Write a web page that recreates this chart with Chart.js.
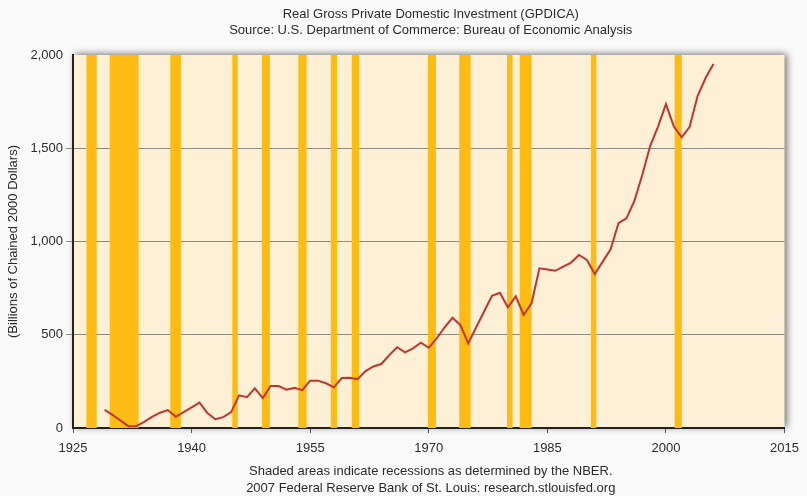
<!DOCTYPE html>
<html>
<head>
<meta charset="utf-8">
<script src="https://cdn.jsdelivr.net/npm/chart.js@4/dist/chart.umd.min.js"></script>
<style>
  html, body { margin: 0; padding: 0; background: #fafafa; }
  #wrap { width: 807px; height: 496px; position: relative; }
</style>
</head>
<body>
<div id="wrap"><canvas id="c" width="807" height="496"></canvas></div>
<script>
// ---- data ----
const years = [1929,1930,1931,1932,1933,1934,1935,1936,1937,1938,1939,1940,1941,1942,1943,1944,1945,1946,1947,1948,1949,
  1950,1951,1952,1953,1954,1955,1956,1957,1958,1959,1960,1961,1962,1963,1964,1965,1966,1967,1968,1969,
  1970,1971,1972,1973,1974,1975,1976,1977,1978,1979,1980,1981,1982,1983,1984,1985,1986,1987,1988,1989,
  1990,1991,1992,1993,1994,1995,1996,1997,1998,1999,2000,2001,2002,2003,2004,2005,2006];
const investment = [97,70,40,10,10,33,60,82,96,60,85,110,136,80,47,58,85,175,165,213,160,
  225,225,205,215,203,254,254,240,218,268,270,262,305,330,343,391,433,406,427,457,
  430,480,540,591,552,454,540,625,709,725,647,706,606,669,856,850,843,865,887,928,
  901,826,892,958,1098,1124,1217,1357,1512,1616,1737,1616,1559,1615,1780,1875,1952];
const recessionStarts = [1926.7,1929.65,1937.3,1945.15,1948.9,1953.5,1957.6,1960.25,1969.9,1973.85,1979.9,1981.5,1990.5,2001.1];
const recessionEnds   = [1928.0,1933.3,1938.65,1945.85,1949.9,1954.55,1958.4,1961.2,1970.9,1975.3,1980.6,1983.0,1991.2,2002.0];
const xTickValues = [1925,1940,1955,1970,1985,2000,2015];
const yTickValues = [0,500,1000,1500,2000];
const titleLines = ["Real Gross Private Domestic Investment (GPDICA)", "Source: U.S. Department of Commerce: Bureau of Economic Analysis"];
const footerLines = ["Shaded areas indicate recessions as determined by the NBER.", "2007 Federal Reserve Bank of St. Louis: research.stlouisfed.org"];
const yAxisTitle = "(Billions of Chained 2000 Dollars)";

const FONT = "'Liberation Sans', Arial, sans-serif";

const plotBg = {
  id: 'plotBg',
  beforeDraw(chart) {
    const {ctx, chartArea: a} = chart;
    ctx.save();
    ctx.shadowColor = 'rgba(0,0,0,0.55)';
    ctx.shadowBlur = 7;
    ctx.shadowOffsetX = 2;
    ctx.shadowOffsetY = -1;
    ctx.fillStyle = '#fdf0d6';
    ctx.fillRect(a.left, a.top, a.right - a.left, a.bottom - a.top);
    ctx.restore();
  }
};

const recessions = {
  id: 'recessions',
  beforeDatasetsDraw(chart) {
    const {ctx, chartArea: a, scales: {x}} = chart;
    ctx.save();
    ctx.fillStyle = '#fdbb14';
    for (let i = 0; i < recessionStarts.length; i++) {
      const x0 = x.getPixelForValue(recessionStarts[i]);
      const x1 = x.getPixelForValue(recessionEnds[i]);
      ctx.fillRect(x0, a.top, x1 - x0, a.bottom - a.top);
    }
    ctx.restore();
  }
};

const texts = {
  id: 'texts',
  afterDraw(chart) {
    const {ctx, chartArea: a} = chart;
    const cx = (a.left + a.right) / 2 + 2;
    ctx.save();
    ctx.fillStyle = '#2b2b2b';
    ctx.textAlign = 'center';
    ctx.textBaseline = 'middle';
    ctx.font = "13px " + FONT;
    ctx.fillText(titleLines[0], cx, 14);
    ctx.fillText(titleLines[1], cx, 30);
    ctx.fillText(footerLines[0], cx, 471);
    ctx.fillText(footerLines[1], cx, 488);
    ctx.restore();
  }
};

new Chart(document.getElementById('c'), {
  type: 'line',
  data: {
    datasets: [{
      data: years.map((y, i) => ({x: y, y: investment[i]})),
      borderColor: '#c4342b',
      borderWidth: 2,
      pointRadius: 0,
      tension: 0,
      fill: false
    }]
  },
  options: {
    responsive: false,
    animation: false,
    events: [],
    layout: { padding: { top: 55, right: 18, left: 0, bottom: 0 } },
    plugins: { legend: { display: false }, tooltip: { enabled: false }, title: { display: false } },
    scales: {
      x: {
        type: 'linear',
        min: 1925, max: 2015,
        afterBuildTicks(scale) { scale.ticks = xTickValues.map(v => ({value: v})); },
        afterFit(scale) { scale.height = 68; },
        grid: { drawOnChartArea: false, drawTicks: true, tickLength: 5, color: '#555', lineWidth: 1 },
        border: { display: true, color: '#222', width: 2 },
        ticks: { color: '#2b2b2b', font: { family: FONT, size: 13 }, padding: 8, maxRotation: 0,
          callback: v => String(v) }
      },
      y: {
        min: 0, max: 2000,
        afterBuildTicks(scale) { scale.ticks = yTickValues.map(v => ({value: v})); },
        afterFit(scale) { scale.width = 73; },
        grid: { drawOnChartArea: true, drawTicks: true, tickLength: 7,
          color: ctx => (ctx.tick && (ctx.tick.value === 0 || ctx.tick.value === 2000)) ? 'rgba(0,0,0,0)' : '#8a8a80',
          lineWidth: 1 },
        border: { display: true, color: '#222', width: 2 },
        title: { display: true, text: yAxisTitle, color: '#2b2b2b', font: { family: FONT, size: 13 }, padding: { top: 6, bottom: 0 } },
        ticks: { color: '#2b2b2b', font: { family: FONT, size: 13 }, padding: 3,
          callback: v => v.toLocaleString('en-US') }
      }
    }
  },
  plugins: [plotBg, recessions, texts]
});
</script>
</body>
</html>
